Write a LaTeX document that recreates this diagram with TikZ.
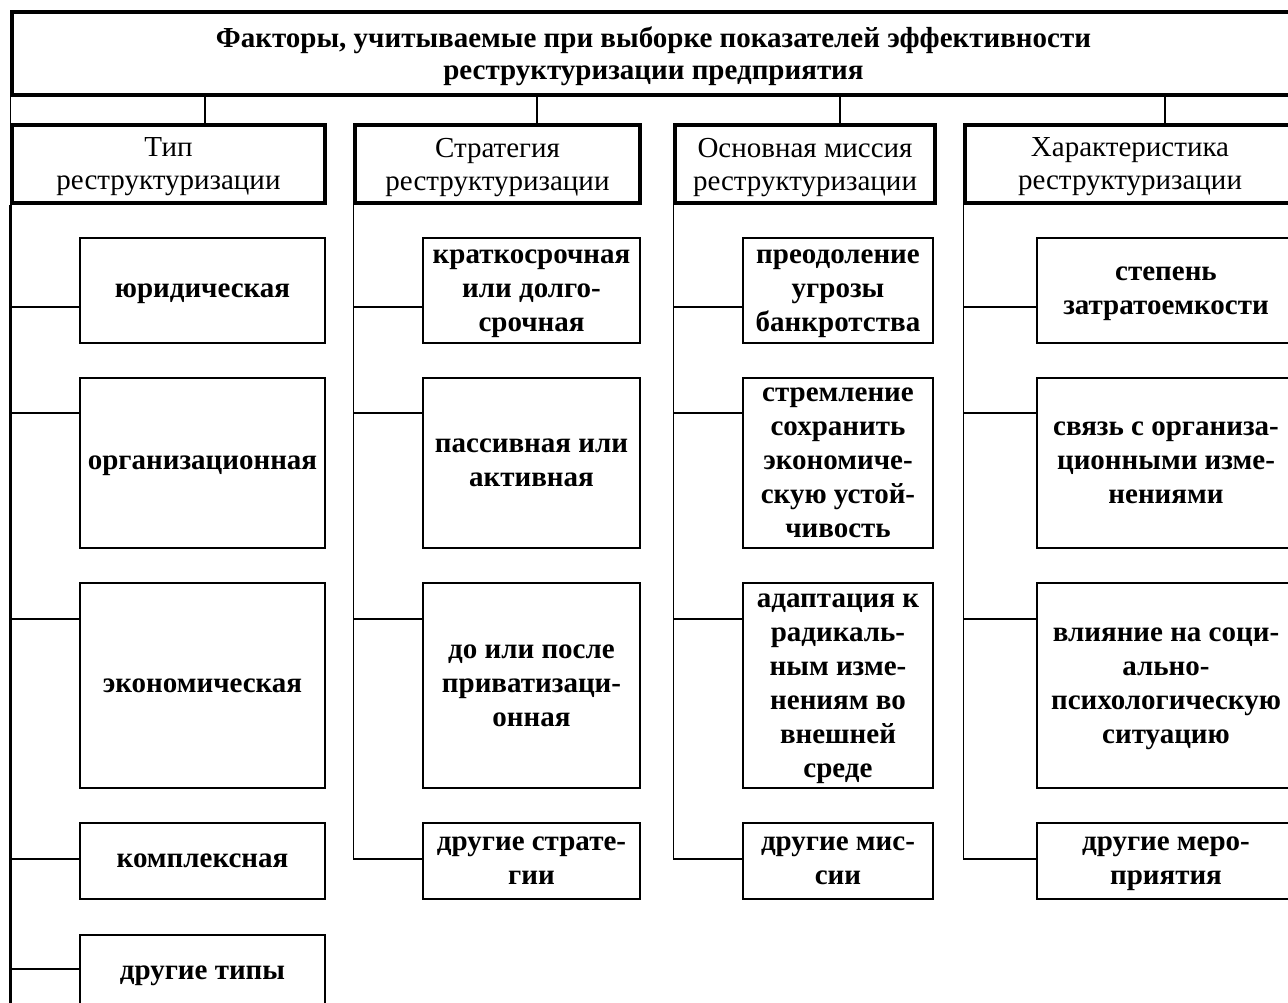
\documentclass[tikz,border=0pt]{standalone}
\usepackage{fontspec}
\setmainfont{Liberation Serif}
\tikzset{
  head/.style={draw,line width=3.5pt,inner sep=0pt,align=center,minimum height=78pt,
    text depth=-4pt,font=\fontsize{29}{33}\selectfont},
  kid/.style={draw,line width=1.8pt,inner sep=0pt,align=center,text depth=-4pt,
    font=\bfseries\fontsize{29}{34}\selectfont},
  link/.style={line width=1.8pt},
  trunk/.style={line width=1.5pt},
  ra/.style={minimum height=105pt},
  rb/.style={minimum height=170pt},
  rc/.style={minimum height=205pt},
  rd/.style={minimum height=76pt},
  re/.style={minimum height=75pt},
}
\begin{document}
\begin{tikzpicture}[x=1pt,y=-1pt]
\useasboundingbox (0,0) rectangle (1288,1002);
\clip (0,0) rectangle (1288,1002);
\fill[white] (0,0) rectangle (1288,1002);
\node[head,minimum width=1283pt,minimum height=83pt,font=\bfseries\fontsize{29}{32}\selectfont] (top) at (653.5,53.5)
  {Факторы, учитываемые при выборке показателей эффективности\\реструктуризации предприятия};
% headers
\node[head,minimum width=313pt] (h1) at (168.5,164) {Тип\\реструктуризации};
\node[head,minimum width=285pt] (h2) at (497.5,164) {Стратегия\\реструктуризации};
\node[head,minimum width=260pt] (h3) at (805,164) {Основная миссия\\реструктуризации};
\node[head,minimum width=330pt] (h4) at (1130,164) {Характеристика\\реструктуризации};
\draw[trunk] (top.south west) -- (h1.north west);
\foreach \h/\x in {h1/205,h2/537,h3/840,h4/1165}
  \draw[trunk] (\x,0 |- top.south) -- (\x,0 |- \h.north);
% type
\node[kid,ra,minimum width=245pt] (t1) at (202.5,290.5) {юридическая};
\node[kid,rb,minimum width=245pt] (t2) at (202.5,463) {организационная};
\node[kid,rc,minimum width=245pt] (t3) at (202.5,685.5) {экономическая};
\node[kid,rd,minimum width=245pt] (t4) at (202.5,861) {комплексная};
\node[kid,re,minimum width=245pt] (t5) at (202.5,972.5) {другие типы};
% strategy
\node[kid,ra,minimum width=217pt] (s1) at (531.5,290.5) {краткосрочная\\или долго-\\срочная};
\node[kid,rb,minimum width=217pt] (s2) at (531.5,463) {пассивная или\\активная};
\node[kid,rc,minimum width=217pt] (s3) at (531.5,685.5) {до или после\\приватизаци-\\онная};
\node[kid,rd,minimum width=217pt] (s4) at (531.5,861) {другие страте-\\гии};
% mission
\node[kid,ra,minimum width=190pt] (m1) at (838,290.5) {преодоление\\угрозы\\банкротства};
\node[kid,rb,minimum width=190pt] (m2) at (838,463) {стремление\\сохранить\\экономиче-\\скую устой-\\чивость};
\node[kid,rc,minimum width=190pt] (m3) at (838,685.5) {адаптация к\\радикаль-\\ным изме-\\нениям во\\внешней\\среде};
\node[kid,rd,minimum width=190pt] (m4) at (838,861) {другие мис-\\сии};
% features
\node[kid,ra,minimum width=258pt] (f1) at (1166,290.5) {степень\\затратоемкости};
\node[kid,rb,minimum width=258pt] (f2) at (1166,463) {связь с организа-\\ционными изме-\\нениями};
\node[kid,rc,minimum width=258pt] (f3) at (1166,685.5) {влияние на соци-\\ально-\\психологическую\\ситуацию};
\node[kid,rd,minimum width=258pt] (f4) at (1166,861) {другие меро-\\приятия};
% trunks and branches
\coordinate (tend) at (h1.south west |- 0,1010);
\draw[line width=3pt] (h1.south west) -- (tend);
\foreach \n/\y in {1/307,2/413,3/619,4/859,5/969}{
  \coordinate (jt\n) at (h1.south west |- 0,\y);
  \draw[link] (jt\n) -- (jt\n -| t\n.west);
}
\foreach \c/\h in {s/h2,m/h3,f/h4}{
  \foreach \n/\y in {1/307,2/413,3/619,4/859}{
    \coordinate (j\c\n) at (\h.south west |- 0,\y);
    \draw[link] (j\c\n) -- (j\c\n -| \c\n.west);
  }
  \draw[trunk] (\h.south west) -- (j\c4);
}
\end{tikzpicture}
\end{document}
